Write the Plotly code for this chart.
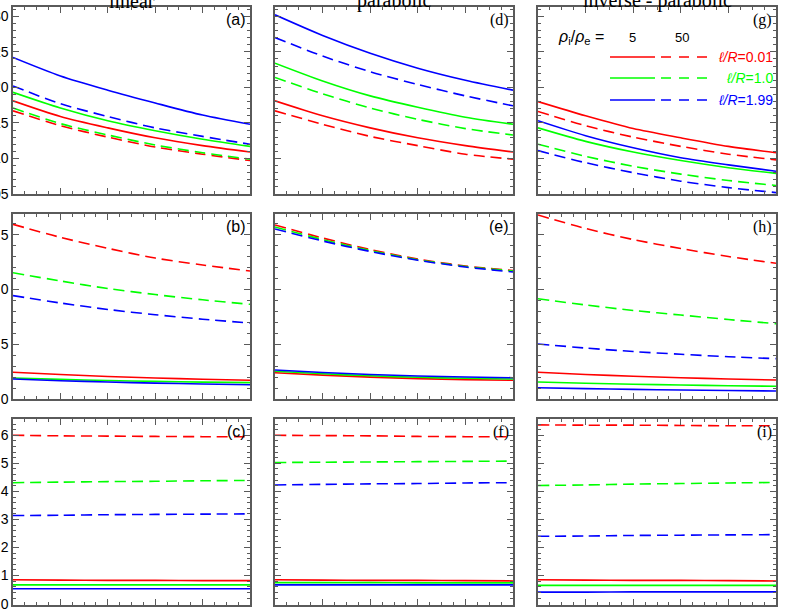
import plotly.graph_objects as go

W, H = 789, 615

# ---------------- data ----------------
x_vals = [0.0, 0.2, 0.4, 0.6, 0.8, 1.0]

col_titles = ["linear", "parabolic", "inverse - parabolic"]
panel_labels = [["(a)", "(d)", "(g)"], ["(b)", "(e)", "(h)"], ["(c)", "(f)", "(i)"]]
series_names = ["l/R=0.01", "l/R=1.0", "l/R=1.99"]
series_colors = ["#ff0000", "#00ff00", "#0000ff"]
density_ratios = ["5", "50"]

# row 1 -------------------------------------------------------------
a_red_5 = [1.181, 1.159, 1.143, 1.129, 1.118, 1.109]
a_red_50 = [1.167, 1.146, 1.130, 1.116, 1.106, 1.097]
a_green_5 = [1.193, 1.171, 1.153, 1.139, 1.127, 1.117]
a_green_50 = [1.171, 1.149, 1.133, 1.119, 1.108, 1.099]
a_blue_5 = [1.242, 1.216, 1.196, 1.178, 1.161, 1.148]
a_blue_50 = [1.202, 1.177, 1.159, 1.143, 1.131, 1.120]

d_red_5 = [1.181, 1.160, 1.143, 1.129, 1.118, 1.109]
d_red_50 = [1.167, 1.148, 1.131, 1.118, 1.106, 1.099]
d_green_5 = [1.234, 1.209, 1.188, 1.172, 1.158, 1.148]
d_green_50 = [1.214, 1.191, 1.171, 1.155, 1.142, 1.133]
d_blue_5 = [1.302, 1.273, 1.248, 1.227, 1.210, 1.196]
d_blue_50 = [1.270, 1.244, 1.222, 1.204, 1.188, 1.174]

g_red_5 = [1.180, 1.160, 1.142, 1.129, 1.117, 1.108]
g_red_50 = [1.166, 1.146, 1.130, 1.117, 1.106, 1.098]
g_green_5 = [1.143, 1.124, 1.109, 1.097, 1.087, 1.079]
g_green_50 = [1.120, 1.103, 1.089, 1.078, 1.069, 1.062]
g_blue_5 = [1.153, 1.132, 1.115, 1.101, 1.091, 1.082]
g_blue_50 = [1.111, 1.094, 1.080, 1.068, 1.059, 1.052]

# row 2 -------------------------------------------------------------
b_red_5 = [0.244, 0.224, 0.205, 0.192, 0.180, 0.171]
b_red_50 = [1.594, 1.475, 1.375, 1.286, 1.223, 1.168]
b_green_5 = [0.192, 0.179, 0.169, 0.161, 0.154, 0.149]
b_green_50 = [1.152, 1.077, 1.008, 0.953, 0.905, 0.864]
b_blue_5 = [0.182, 0.167, 0.155, 0.145, 0.137, 0.130]
b_blue_50 = [0.943, 0.876, 0.817, 0.769, 0.728, 0.693]

e_red_5 = [0.240, 0.218, 0.200, 0.186, 0.177, 0.171]
e_red_50 = [1.588, 1.469, 1.364, 1.277, 1.214, 1.172]
e_green_5 = [0.253, 0.230, 0.212, 0.198, 0.189, 0.182]
e_green_50 = [1.569, 1.455, 1.355, 1.271, 1.209, 1.168]
e_blue_5 = [0.265, 0.242, 0.224, 0.210, 0.201, 0.194]
e_blue_50 = [1.551, 1.442, 1.346, 1.266, 1.204, 1.159]

h_red_5 = [0.244, 0.224, 0.207, 0.194, 0.182, 0.173]
h_red_50 = [1.679, 1.556, 1.455, 1.373, 1.300, 1.238]
h_green_5 = [0.155, 0.144, 0.135, 0.128, 0.121, 0.116]
h_green_50 = [0.915, 0.858, 0.808, 0.766, 0.725, 0.687]
h_blue_5 = [0.103, 0.095, 0.088, 0.082, 0.078, 0.073]
h_blue_50 = [0.502, 0.465, 0.433, 0.408, 0.386, 0.368]

# row 3 -------------------------------------------------------------
c_red_5 = [0.85, 0.84, 0.83, 0.83, 0.82, 0.82]
c_red_50 = [6.00, 5.98, 5.97, 5.96, 5.95, 5.95]
c_green_5 = [0.67, 0.67, 0.67, 0.67, 0.67, 0.67]
c_green_50 = [4.31, 4.33, 4.35, 4.36, 4.38, 4.39]
c_blue_5 = [0.53, 0.53, 0.53, 0.53, 0.53, 0.53]
c_blue_50 = [3.14, 3.15, 3.17, 3.18, 3.19, 3.20]

f_red_5 = [0.85, 0.84, 0.83, 0.83, 0.82, 0.81]
f_red_50 = [6.00, 5.99, 5.98, 5.96, 5.95, 5.95]
f_green_5 = [0.75, 0.75, 0.75, 0.74, 0.74, 0.74]
f_green_50 = [5.03, 5.04, 5.05, 5.06, 5.07, 5.08]
f_blue_5 = [0.67, 0.67, 0.67, 0.67, 0.67, 0.67]
f_blue_50 = [4.23, 4.25, 4.27, 4.28, 4.30, 4.31]

i_red_5 = [0.85, 0.84, 0.83, 0.83, 0.82, 0.81]
i_red_50 = [6.37, 6.36, 6.36, 6.35, 6.34, 6.34]
i_green_5 = [0.65, 0.65, 0.65, 0.65, 0.65, 0.65]
i_green_50 = [4.21, 4.23, 4.26, 4.28, 4.30, 4.32]
i_blue_5 = [0.41, 0.41, 0.42, 0.42, 0.42, 0.42]
i_blue_50 = [2.40, 2.41, 2.43, 2.44, 2.45, 2.46]

panels = [
    [[(a_red_5, a_red_50), (a_green_5, a_green_50), (a_blue_5, a_blue_50)],
     [(d_red_5, d_red_50), (d_green_5, d_green_50), (d_blue_5, d_blue_50)],
     [(g_red_5, g_red_50), (g_green_5, g_green_50), (g_blue_5, g_blue_50)]],
    [[(b_red_5, b_red_50), (b_green_5, b_green_50), (b_blue_5, b_blue_50)],
     [(e_red_5, e_red_50), (e_green_5, e_green_50), (e_blue_5, e_blue_50)],
     [(h_red_5, h_red_50), (h_green_5, h_green_50), (h_blue_5, h_blue_50)]],
    [[(c_red_5, c_red_50), (c_green_5, c_green_50), (c_blue_5, c_blue_50)],
     [(f_red_5, f_red_50), (f_green_5, f_green_50), (f_blue_5, f_blue_50)],
     [(i_red_5, i_red_50), (i_green_5, i_green_50), (i_blue_5, i_blue_50)]],
]

row_ranges = [[1.05, 1.313], [0.0, 1.688], [-0.03, 6.58]]
row_dticks = [0.05, 0.5, 1.0]
row_minor = [0.01, 0.1, 0.2]
row_formats = [".2f", ".1f", "d"]

# ---------------- layout geometry (pixels) ----------------
col_px = [(13, 250), (275, 513), (538, 776)]
row_px = [(7, 194), (214, 399), (419, 604.5)]

def px_x(p):
    return p / W

def px_y(p):
    return 1 - p / H

fig = go.Figure()
frame_col = "#5a5a5a"
sans = "Liberation Sans, Arial, sans-serif"
serif = "Liberation Serif, Times New Roman, serif"

annotations = []
for r in range(3):
    for c in range(3):
        idx = r * 3 + c + 1
        xa = "x" if idx == 1 else f"x{idx}"
        ya = "y" if idx == 1 else f"y{idx}"
        for s in range(3):
            v5, v50 = panels[r][c][s]
            for vals, dash in ((v5, "solid"), (v50, "11px,6px")):
                fig.add_trace(go.Scatter(
                    x=x_vals, y=vals, mode="lines", xaxis=xa, yaxis=ya,
                    line=dict(color=series_colors[s], width=1.6, dash=dash,
                              shape="spline", smoothing=0.8),
                    showlegend=False, hoverinfo="skip"))
        axk = "xaxis" if idx == 1 else f"xaxis{idx}"
        ayk = "yaxis" if idx == 1 else f"yaxis{idx}"
        fig.layout[axk] = dict(
            domain=[px_x(col_px[c][0]), px_x(col_px[c][1])],
            anchor=ya, range=[0, 1], dtick=0.2, tick0=0,
            showticklabels=False, showgrid=False, zeroline=False,
            showline=True, linecolor=frame_col, linewidth=1.5, mirror="allticks",
            ticks="inside", ticklen=6, tickwidth=1, tickcolor=frame_col,
            minor=dict(ticks="inside", ticklen=3, dtick=0.05, tickcolor=frame_col, showgrid=False),
            automargin=False)
        fig.layout[ayk] = dict(
            domain=[px_y(row_px[r][1]), px_y(row_px[r][0])],
            anchor=xa, range=row_ranges[r], dtick=row_dticks[r], tick0=0,
            tickformat=row_formats[r],
            showticklabels=(c == 0), showgrid=False, zeroline=False,
            showline=True, linecolor=frame_col, linewidth=1.5, mirror="allticks",
            ticks="inside", ticklen=6, tickwidth=1, tickcolor=frame_col,
            minor=dict(ticks="inside", ticklen=3, dtick=row_minor[r], tickcolor=frame_col, showgrid=False),
            tickfont=dict(family=sans, size=14, color="#000000"),
            automargin=False)
        lab = panel_labels[r][c]
        fam = sans if lab in ("(a)", "(b)", "(c)", "(e)") else serif
        annotations.append(dict(
            text=lab, xref="paper", yref="paper",
            x=px_x(col_px[c][1] - 2), y=px_y(row_px[r][0] + 2),
            xanchor="right", yanchor="top", showarrow=False,
            font=dict(family=fam, size=16, color="#000000")))

# column titles (mostly outside the page at the top)
for c in range(3):
    annotations.append(dict(
        text=col_titles[c], xref="paper", yref="paper",
        x=px_x((col_px[c][0] + col_px[c][1]) / 2), y=px_y(14),
        xanchor="center", yanchor="bottom", showarrow=False,
        font=dict(family=serif, size=20, color="#000000")))

# legend inside panel (g)
annotations.append(dict(
    text="<i>ρ</i><sub>i</sub>/<i>ρ</i><sub>e</sub> =", xref="paper", yref="paper",
    x=px_x(556), y=px_y(38), xanchor="left", yanchor="middle", showarrow=False,
    font=dict(family=sans, size=16, color="#000000")))
for txt, xp in zip(density_ratios, (632, 682)):
    annotations.append(dict(
        text=txt, xref="paper", yref="paper", x=px_x(xp), y=px_y(37),
        xanchor="center", yanchor="middle", showarrow=False,
        font=dict(family=sans, size=13, color="#000000")))

shapes = []
leg_y = [57, 78, 100]
for s in range(3):
    yy = px_y(leg_y[s])
    shapes.append(dict(type="line", xref="paper", yref="paper",
                       x0=px_x(610), x1=px_x(655), y0=yy, y1=yy,
                       line=dict(color=series_colors[s], width=1.6)))
    shapes.append(dict(type="line", xref="paper", yref="paper",
                       x0=px_x(661), x1=px_x(707), y0=yy, y1=yy,
                       line=dict(color=series_colors[s], width=1.6, dash="10px,8px")))
    name = series_names[s]
    lhs, rhs = name.split("=")
    annotations.append(dict(
        text=f"<i>ℓ/R</i>={rhs}", xref="paper", yref="paper",
        x=px_x(775), y=px_y(leg_y[s]), xanchor="right", yanchor="middle",
        showarrow=False, font=dict(family=sans, size=14, color=series_colors[s])))

fig.update_layout(
    width=W, height=H, margin=dict(l=0, r=0, t=0, b=0),
    paper_bgcolor="white", plot_bgcolor="white",
    annotations=annotations, shapes=shapes, showlegend=False)

fig.write_html(
    "out.html",
    config={"displayModeBar": False},
    post_script="document.body.style.margin='0';document.body.style.overflow='hidden';")
